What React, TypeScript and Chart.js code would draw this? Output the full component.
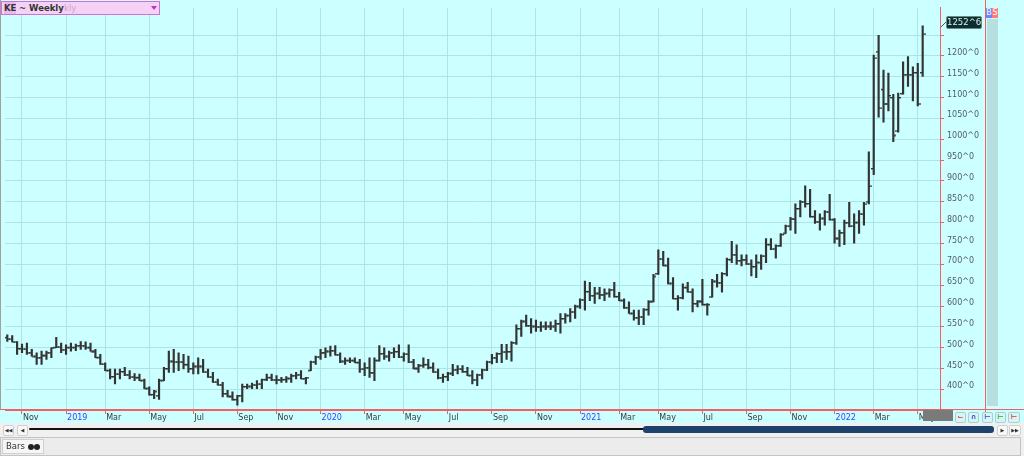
import React, { useEffect, useRef } from 'react';
import { Chart, registerables } from 'chart.js';
Chart.register(...registerables);

// Weekly OHLC bars (KE, Oct 2018 - May 2022)
const highs = [531,529,515,509,511,496,488,492,492,500,525,511,507,511,509,515,514,511,496,484,464,449,449,449,453,445,438,437,425,406,398,425,453,492,496,488,484,480,464,476,472,449,441,425,417,398,394,386,413,413,415,421,425,437,437,433,429,431,437,441,445,429,468,480,496,500,504,505,488,476,476,476,472,464,476,476,505,500,492,500,507,488,507,472,460,476,472,464,449,437,441,460,457,457,453,445,437,449,468,484,488,508,508,515,555,566,578,570,566,562,562,562,566,582,582,594,602,617,660,657,645,645,641,641,657,633,617,610,590,590,594,613,676,735,731,715,668,625,653,657,641,613,664,606,664,676,680,715,755,747,723,723,711,723,723,762,762,747,774,794,813,845,853,888,880,829,821,829,868,810,782,806,849,821,829,849,970,1202,1249,1166,1159,1108,1111,1186,1198,1174,1182,1272];
const lows = [515,514,484,488,484,480,460,460,472,476,500,488,484,492,493,496,496,492,476,460,445,425,413,425,433,425,421,421,402,386,378,376,421,441,441,445,449,441,437,437,441,429,417,410,382,382,374,362,370,402,402,402,402,421,421,413,417,417,417,425,425,413,445,460,472,476,480,482,464,460,464,464,441,433,429,421,468,472,468,476,476,468,464,449,441,453,449,441,425,417,421,433,437,441,433,413,409,425,445,461,464,464,472,468,508,527,551,535,539,539,543,543,539,535,559,562,570,594,590,613,606,617,613,621,621,613,594,582,566,555,555,578,610,676,696,653,617,590,617,633,586,598,602,578,621,645,633,672,704,700,696,700,672,668,688,704,735,715,743,774,782,774,814,837,813,798,782,794,806,751,743,747,790,751,774,794,845,915,1053,1041,1068,994,1017,1108,1127,1092,1080,1151];
const opens = [525,521,514,498,497,488,480,476,482,488,501,502,495,501,501,505,505,501,492,477,461,446,431,437,443,435,430,429,422,403,388,385,422,450,468,466,466,460,450,456,456,442,430,418,411,390,384,376,385,407,408,411,413,424,429,423,423,424,427,433,435,426,446,466,478,488,492,493,483,468,470,470,465,449,452,440,470,486,480,488,491,478,485,466,451,458,460,453,442,428,431,439,447,449,443,434,423,435,447,466,476,486,490,491,512,546,564,553,552,550,552,552,552,558,570,578,586,600,615,635,625,631,627,631,639,623,614,596,583,572,574,592,612,678,713,698,655,618,620,645,634,606,612,604,622,660,656,678,712,723,709,711,701,695,705,720,748,737,745,775,792,809,834,850,846,815,802,811,826,808,763,776,800,792,801,821,850,930,1210,1120,1085,1100,1020,1110,1155,1155,1160,1160];
const closes = [521,514,498,497,488,480,476,482,488,500,502,495,501,501,505,505,501,492,477,461,446,431,437,443,435,430,429,422,403,388,396,422,450,468,466,466,460,450,456,456,442,430,418,411,390,384,376,385,407,408,411,413,424,429,423,423,424,427,433,435,426,428,466,478,488,492,493,483,468,470,470,465,449,452,440,470,486,480,488,491,478,485,466,451,458,460,453,442,428,431,439,447,449,443,434,423,435,447,466,476,486,490,491,512,546,564,553,552,550,552,552,552,558,570,578,586,600,615,635,625,631,627,631,639,623,614,596,583,572,574,592,610,672,713,698,655,618,620,645,634,606,612,604,604,660,656,678,712,723,709,711,701,695,705,720,748,737,745,772,792,809,834,850,846,815,802,811,826,808,763,776,800,792,801,821,845,888,1195,1075,1085,1105,1010,1100,1155,1155,1160,1085,1252.75];

// X axis: bar index of the first weekly bar of each labelled month
const tickIndex = [3,12,20,29,38,47,55,64,73,81,90,99,108,117,125,133,142,151,160,169,177,186];
const tickLabels = ['Nov','2019','Mar','May','Jul','Sep','Nov','2020','Mar','May','Jul','Sep','Nov','2021','Mar','May','Jul','Sep','Nov','2022','Mar','May'];
// Y axis price ticks
const priceTicks = [400,450,500,550,600,650,700,750,800,850,900,950,1000,1050,1100,1150,1200,1250];
const lastPriceLabel = '1252^6';

const FONT = 'DejaVu Sans';
const BAR_COLOR = '#333333';

function makeTick(left: boolean): HTMLCanvasElement {
  const c = document.createElement('canvas');
  c.width = 6;
  c.height = 3;
  const g = c.getContext('2d')!;
  g.fillStyle = BAR_COLOR;
  if (left) g.fillRect(0, 1, 3, 1.4);
  else g.fillRect(3, 1, 3, 1.4);
  return c;
}

const abs = (s: React.CSSProperties): React.CSSProperties => ({ position: 'absolute', ...s });

export default function App() {
  const ref = useRef<HTMLCanvasElement>(null);
  useEffect(() => {
    document.body.style.margin = '0';
    const openImg = makeTick(true);
    const closeImg = makeTick(false);
    const chart = new Chart(ref.current!, {
      type: 'bar',
      data: {
        datasets: [
          {
            type: 'bar',
            data: highs.map((h, i) => ({ x: i, y: [lows[i], h] })) as any,
            backgroundColor: BAR_COLOR,
            barThickness: 1.5,
            borderWidth: 0,
          } as any,
          {
            type: 'line',
            data: opens.map((o, i) => ({ x: i, y: o })),
            showLine: false,
            pointStyle: openImg,
            pointRadius: 2,
          } as any,
          {
            type: 'line',
            data: closes.map((c, i) => ({ x: i, y: c })),
            showLine: false,
            pointStyle: closeImg,
            pointRadius: 2,
          } as any,
        ],
      },
      options: {
        animation: false,
        responsive: false,
        events: [],
        layout: { padding: { left: 1, right: 39, top: 0, bottom: 32 } },
        plugins: { legend: { display: false }, tooltip: { enabled: false } },
        scales: {
          x: {
            type: 'linear',
            min: -0.47,
            max: 190.54,
            offset: false,
            afterBuildTicks: (s: any) => {
              s.ticks = tickIndex.map((v) => ({ value: v }));
            },
            afterFit: (s: any) => {
              s.height = 14;
            },
            grid: { color: '#ade5e5', tickColor: '#f06060', tickLength: 4, offset: false, lineWidth: 1 },
            border: { color: '#f06060', width: 1 },
            ticks: {
              autoSkip: false,
              maxRotation: 0,
              align: 'start',
              labelOffset: 1,
              padding: -1,
              font: { family: FONT, size: 8 },
              color: (ctx: any) => (/^\d{4}$/.test(tickLabels[ctx.index] || '') ? '#3c3cff' : '#3a3a3a'),
              callback: (_v: any, i: number) => tickLabels[i],
            },
          },
          y: {
            type: 'linear',
            position: 'right',
            min: 350.6,
            max: 1315.3,
            afterBuildTicks: (s: any) => {
              s.ticks = priceTicks.map((v) => ({ value: v }));
            },
            afterFit: (s: any) => {
              s.width = 45;
            },
            grid: { color: '#ade5e5', tickColor: '#f06060', tickLength: 4, lineWidth: 1 },
            border: { color: '#f06060', width: 1 },
            ticks: {
              padding: 3,
              labelOffset: -3,
              font: { family: FONT, size: 8 },
              color: '#525c66',
              callback: (v: any) => (v === 1250 ? '' : `${v}^0`),
            },
          },
        },
      } as any,
    });
    return () => chart.destroy();
  }, []);

  const btn = (x: number, w: number, glyphColor: string, glyph: string) => (
    <div
      key={x}
      style={abs({
        left: x, top: 412, width: w, height: 9, background: '#d8f4f4', border: '1px solid #a8d0d0',
        borderRadius: 2, fontSize: 7, lineHeight: '9px', textAlign: 'center', color: glyphColor,
        fontFamily: FONT, fontWeight: 'bold',
      })}
    >
      {glyph}
    </div>
  );

  const smallBtn = (x: number, w: number, glyph: string) => (
    <div key={'s' + x} style={abs({ left: x, top: 425, width: w, height: 9, background: '#f8f8f8', border: '1px solid #d0d0d0', borderRadius: 2, fontSize: 5, lineHeight: '9px', textAlign: 'center', color: '#333' })}>
      {glyph}
    </div>
  );

  return (
    <div style={{ position: 'fixed', left: 0, top: 0, width: 1024, height: 456, overflow: 'hidden', background: '#f0f0f0', fontFamily: FONT }}>
      <div style={abs({ left: 0, top: 0, width: 1024, height: 423, background: '#ccffff' })} />
      <div style={abs({ left: 987, top: 19, width: 11, height: 387, background: '#b7dfe0' })} />
      <canvas ref={ref} width={1024} height={456} style={{ position: 'absolute', left: 0, top: 0, width: 1024, height: 456 }} />
      {/* frame lines */}
      <div style={abs({ left: 0, top: 0, width: 1, height: 410, background: '#a0a0a0' })} />
      <div style={abs({ left: 0, top: 409, width: 1024, height: 1, background: '#f06060' })} />
      <div style={abs({ left: 985, top: 0, width: 1, height: 414, background: '#f06060' })} />
      <div style={abs({ left: 940, top: 409, width: 1, height: 5, background: '#f06060' })} />
      {/* title box */}
      <div style={abs({ left: 1, top: 1, width: 157, height: 12, background: '#f5d2f5', border: '1.5px solid #d070d0' })}>
        <span style={abs({ left: 2, top: 0, fontSize: 8.5, lineHeight: '12px', fontWeight: 'bold', color: '#333', background: '#eab8ea' })}>KE</span>
        <span style={abs({ left: 17, top: 0, fontSize: 8.5, lineHeight: '12px', fontWeight: 'bold', color: '#333' })}>~ Weekly</span>
        <span style={abs({ left: 62, top: 0, fontSize: 8.5, lineHeight: '12px', color: '#c9a5c9' })}>kly</span>
        <div style={abs({ left: 149, top: 4, width: 0, height: 0, borderLeft: '3.5px solid transparent', borderRight: '3.5px solid transparent', borderTop: '4px solid #c030c0' })} />
      </div>
      {/* last price */}
      <svg style={abs({ left: 940, top: 18, width: 10, height: 12 })} width={10} height={12}>
        <line x1={1} y1={9} x2={7} y2={3} stroke="#3a5a5a" strokeWidth={1} />
      </svg>
      <div style={abs({ left: 946, top: 16, width: 34, height: 11, background: '#0e2f2f', border: '1px solid #6a8a8a', borderRadius: 2, color: '#d8f0f0', fontSize: 8.5, lineHeight: '11px', textAlign: 'center' })}>
        {lastPriceLabel}
      </div>
      {/* B S */}
      <div style={abs({ left: 986, top: 8, width: 6, height: 10, background: '#7080ff', color: '#fff', fontSize: 8, lineHeight: '10px', textAlign: 'center' })}>B</div>
      <div style={abs({ left: 992, top: 8, width: 6, height: 10, background: '#ff7a7a', color: '#fff', fontSize: 8, lineHeight: '10px', textAlign: 'center' })}>S</div>
      {/* bottom right gray box + buttons */}
      <div style={abs({ left: 923, top: 410, width: 30, height: 11, background: '#7a7a7a' })} />
      {btn(955, 9, '#e03030', '⌙')}
      {btn(968, 9, '#3050d0', '∩')}
      {btn(982, 9, '#3050d0', '⊢')}
      {btn(995, 9, '#30b030', '⊢')}
      {btn(1008, 10, '#e03030', '⊢')}
      {/* scroll row */}
      {smallBtn(3, 9, '◀◀')}
      {smallBtn(17, 9, '◀')}
      <div style={abs({ left: 29, top: 428, width: 616, height: 2, background: '#111', borderRadius: 1 })} />
      <div style={abs({ left: 643, top: 426, width: 351, height: 7, background: '#1f426c', borderRadius: 3 })} />
      {smallBtn(997, 9, '▶')}
      {smallBtn(1009, 10, '▶▶')}
      {/* bottom tab row */}
      <div style={abs({ left: 0, top: 437, width: 1019, height: 17, background: '#ececec', border: '1px solid #c4c4c4' })} />
      <div style={abs({ left: 2, top: 439, width: 40, height: 13, background: '#f6f6f6', border: '1px solid #d0d0d0' })}>
        <span style={abs({ left: 3, top: 0, fontSize: 8.5, lineHeight: '13px', color: '#333' })}>Bars</span>
        <span style={abs({ left: 25, top: 4, width: 6, height: 6, borderRadius: 3, background: '#222' })} />
        <span style={abs({ left: 31, top: 4, width: 6, height: 6, borderRadius: 3, background: '#222' })} />
      </div>
    </div>
  );
}
